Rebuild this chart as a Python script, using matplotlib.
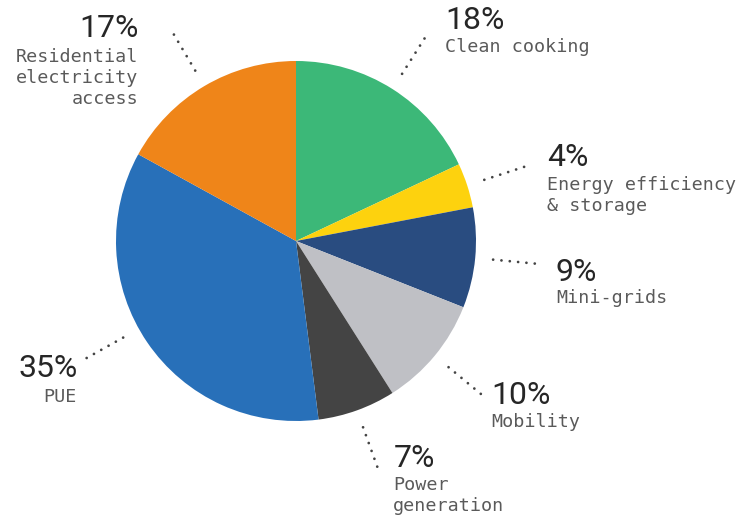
import numpy as np
import matplotlib
matplotlib.use("Agg")
import matplotlib.pyplot as plt

# Share of funding by segment (percent), clockwise from 12 o'clock
categories = ["Clean cooking", "Energy efficiency\n& storage", "Mini-grids", "Mobility",
              "Power\ngeneration", "PUE", "Residential\nelectricity\naccess"]
values = [18, 4, 9, 10, 7, 35, 17]
colors = ["#3cb878", "#fdd20e", "#294c80", "#bfc0c5", "#444444", "#2870b9", "#ef8519"]

W, H = 739, 518
fig = plt.figure(figsize=(W / 100, H / 100), dpi=100)
ax = fig.add_axes([0, 0, 1, 1])

cx, cy, R = 296, H - 241, 180
ax.pie(values, colors=colors, startangle=90, counterclock=False,
       center=(cx, cy), radius=R, wedgeprops=dict(linewidth=0))
ax.set_xlim(0, W)
ax.set_ylim(0, H)
ax.set_aspect("equal")
ax.axis("off")

# label placement relative to the leader end (pixel offsets, y down),
# alignment, and a small angular nudge of the leader (degrees)
layout = [
    dict(pct=(19, -15), lab=(19, 11), ha="left", nudge=0),
    dict(pct=(20, -8), lab=(20, 19), ha="left", nudge=0),
    dict(pct=(18, 9), lab=(18, 34), ha="left", nudge=0),
    dict(pct=(8, 0), lab=(8, 26), ha="left", nudge=0),
    dict(pct=(15, -11), lab=(15, 15), ha="left", nudge=0),
    dict(pct=(-6, 9), lab=(-7, 37), ha="right", nudge=5),
    dict(pct=(-34, -3), lab=(-34, 25), ha="right", nudge=0),
]
line_step = 21

total = sum(values)
cum = np.cumsum([0] + values)
for i, (cat, v) in enumerate(zip(categories, values)):
    L = layout[i]
    mid = (cum[i] + v / 2) / total * 2 * np.pi + np.deg2rad(L["nudge"])  # clockwise from top
    dx, dy = np.sin(mid), np.cos(mid)
    r0, r1 = 1.10 * R, 1.35 * R
    x0, y0 = cx + r0 * dx, cy + r0 * dy
    x1, y1 = cx + r1 * dx, cy + r1 * dy
    ax.plot([x0, x1], [y0, y1], color="#444444", lw=2.0,
            linestyle=(0, (0.01, 3.0)), dash_capstyle="round", solid_capstyle="round")
    ax.text(x1 + L["pct"][0], y1 - L["pct"][1], f"{v}%", ha=L["ha"], va="center",
            fontsize=23, family="Roboto", color="#262626")
    for k, line in enumerate(cat.split("\n")):
        ax.text(x1 + L["lab"][0], y1 - L["lab"][1] - k * line_step, line,
                ha=L["ha"], va="center", fontsize=13.2,
                family="DejaVu Sans Mono", color="#5a5a5a")

fig.savefig("out.png", dpi=100)
